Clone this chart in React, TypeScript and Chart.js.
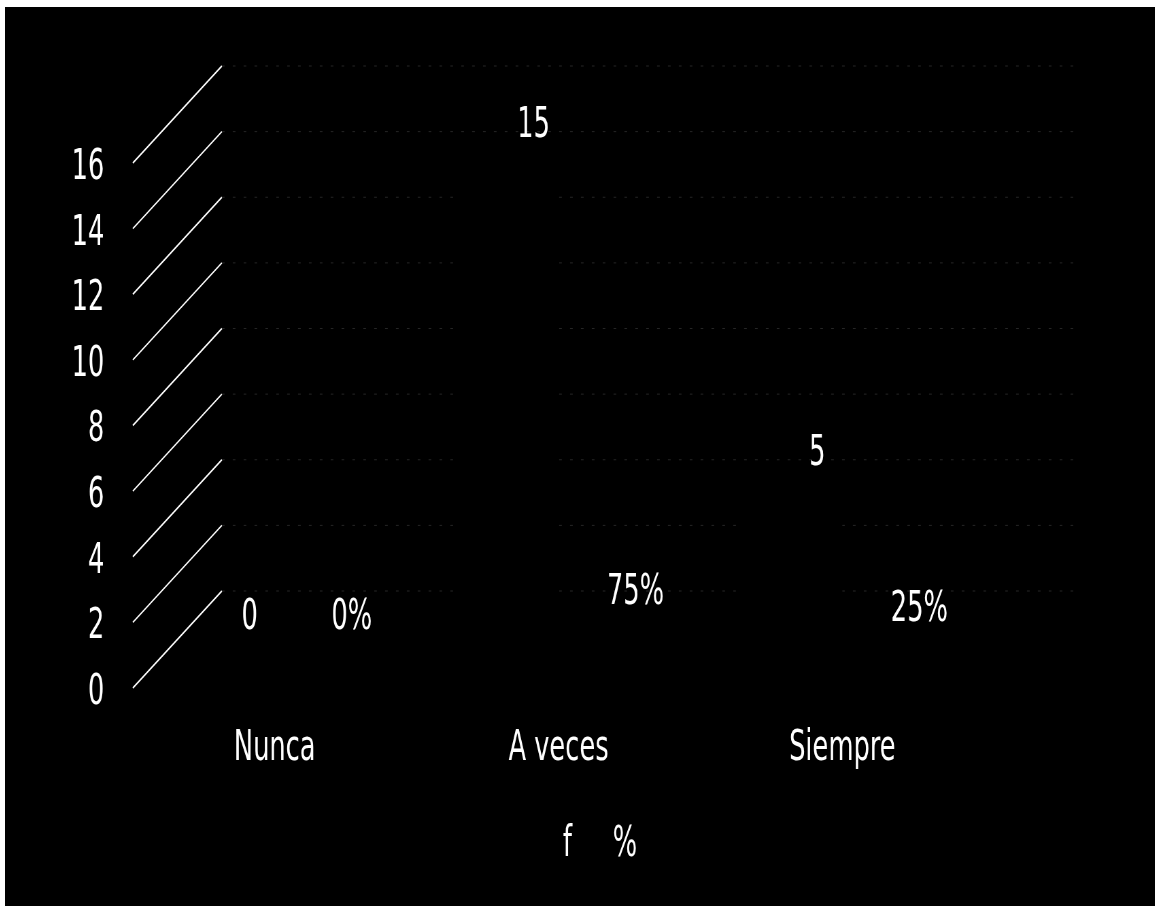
import React, { useEffect, useRef } from "react";
import { Chart, registerables } from "chart.js";

Chart.register(...registerables);

const categories = ["Nunca", "A veces", "Siempre"];
const freqValues = [0, 15, 5];
const pctValues = [0, 0.75, 0.25];
const seriesNames = ["f", "%"];
const yMin = 0;
const yMax = 16;
const yStep = 2;

// horizontal squeeze of the whole drawing (text in the original is condensed)
const SQUEEZE = 0.68;
const VIEW_W = 1150;
const VIEW_H = 899;
const BUF_W = Math.round(VIEW_W / SQUEEZE);

const FONT = "'DejaVu Sans Condensed', 'DejaVu Sans', sans-serif";
const FONT_SIZE = 42;
const DEPTH_X = 89 / SQUEEZE;
const DEPTH_Y = -97;
const LABEL_DX = 26 / SQUEEZE;
const LABEL_DY = -59;

const floorPlugin = {
  id: "floor3d",
  beforeDatasetsDraw(chart: any) {
    const { ctx, chartArea } = chart;
    const y = chart.scales.y;
    ctx.save();
    for (let v = yMin; v <= yMax; v += yStep) {
      const py = y.getPixelForValue(v);
      ctx.strokeStyle = "rgba(255,255,255,0.15)";
      ctx.lineWidth = 1;
      ctx.setLineDash([4, 12]);
      ctx.beginPath();
      ctx.moveTo(chartArea.left + DEPTH_X, py + DEPTH_Y);
      ctx.lineTo(chartArea.right + DEPTH_X, py + DEPTH_Y);
      ctx.stroke();
      ctx.setLineDash([]);
      ctx.strokeStyle = "#ffffff";
      ctx.lineWidth = 1.8;
      ctx.beginPath();
      ctx.moveTo(chartArea.left, py);
      ctx.lineTo(chartArea.left + DEPTH_X, py + DEPTH_Y);
      ctx.stroke();
    }
    ctx.restore();
  },
  afterDatasetsDraw(chart: any) {
    const { ctx } = chart;
    ctx.save();
    ctx.fillStyle = "#ffffff";
    ctx.font = `${FONT_SIZE}px ${FONT}`;
    ctx.textAlign = "center";
    ctx.textBaseline = "alphabetic";
    chart.data.datasets.forEach((ds: any, di: number) => {
      const meta = chart.getDatasetMeta(di);
      meta.data.forEach((el: any, i: number) => {
        const v = ds.data[i];
        const txt = di === 0 ? String(v) : `${Math.round(v * 100)}%`;
        ctx.fillText(txt, el.x + LABEL_DX, el.y + LABEL_DY);
      });
    });
    ctx.restore();
  },
};

export default function App() {
  const ref = useRef<HTMLCanvasElement | null>(null);
  useEffect(() => {
    if (!ref.current) return;
    const chart = new Chart(ref.current, {
      type: "bar",
      data: {
        labels: categories,
        datasets: [
          {
            label: seriesNames[0],
            data: freqValues,
            backgroundColor: "#000000",
            borderWidth: 0,
            categoryPercentage: 0.719,
            barPercentage: 1,
          },
          {
            label: seriesNames[1],
            data: pctValues,
            backgroundColor: "#000000",
            borderWidth: 0,
            categoryPercentage: 0.719,
            barPercentage: 1,
          },
        ],
      },
      options: {
        responsive: false,
        animation: false,
        layout: { padding: { left: 9, right: 0, top: 156, bottom: 30 } },
        plugins: {
          tooltip: { enabled: false },
          legend: {
            position: "bottom",
            labels: {
              color: "#ffffff",
              boxWidth: 29,
              boxHeight: 14,
              padding: 10,
              font: { family: FONT, size: FONT_SIZE },
            },
          },
        },
        scales: {
          x: {
            grid: { display: false },
            border: { display: false },
            ticks: {
              color: "#ffffff",
              padding: 28,
              font: { family: FONT, size: FONT_SIZE },
              maxRotation: 0,
            },
            afterFit: (s: any) => {
              s.height = 126;
            },
          },
          y: {
            min: yMin,
            max: yMax,
            grid: { display: false },
            border: { display: false },
            ticks: {
              stepSize: yStep,
              color: "#ffffff",
              padding: 34,
              labelOffset: 5,
              font: { family: FONT, size: FONT_SIZE },
            },
            afterFit: (s: any) => {
              s.width = 179;
            },
          },
          yR: {
            position: "right",
            grid: { display: false },
            border: { display: false },
            ticks: { display: false },
            afterFit: (s: any) => {
              s.width = 251;
            },
          },
        },
      } as any,
      plugins: [floorPlugin],
    });
    return () => chart.destroy();
  }, []);
  return (
    <div
      style={{
        position: "fixed",
        left: 0,
        top: 0,
        width: 1155,
        height: 906,
        background: "#ffffff",
        overflow: "hidden",
      }}
    >
      <div
        style={{
          position: "absolute",
          left: 5,
          top: 7,
          width: VIEW_W,
          height: VIEW_H,
          background: "#000000",
          overflow: "hidden",
        }}
      >
        <canvas
          ref={ref}
          width={BUF_W}
          height={VIEW_H}
          style={{
            display: "block",
            width: BUF_W,
            height: VIEW_H,
            transform: `scaleX(${SQUEEZE})`,
            transformOrigin: "0 0",
          }}
        />
      </div>
    </div>
  );
}
